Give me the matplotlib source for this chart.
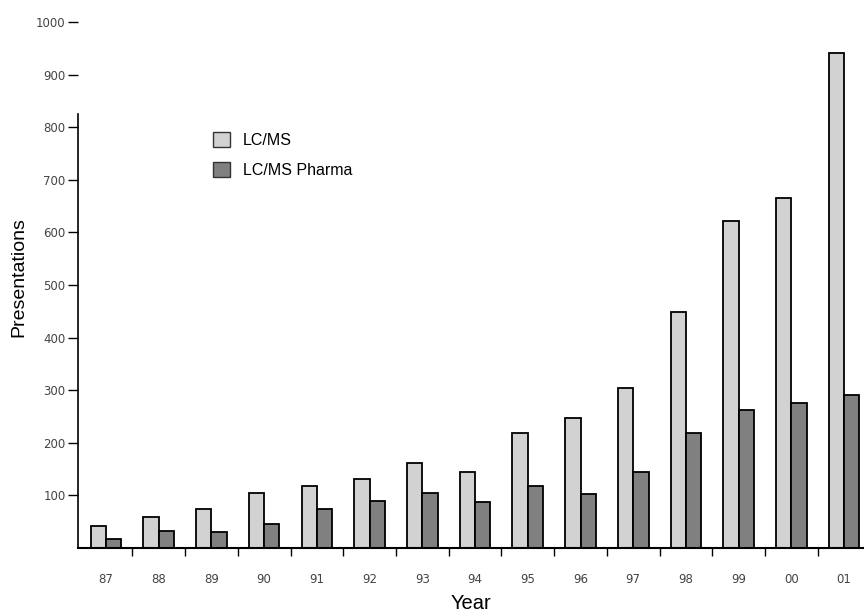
import numpy as np
import matplotlib
matplotlib.use("Agg")
import matplotlib.pyplot as plt
from matplotlib.patches import Patch

# values
years = ["87", "88", "89", "90", "91", "92", "93", "94",
         "95", "96", "97", "98", "99", "00", "01"]
lcms = [42, 58, 74, 104, 117, 131, 161, 145, 219, 247, 305, 448, 622, 665, 941]
lcms_pharma = [17, 32, 31, 46, 74, 89, 104, 88, 118, 103, 145, 219, 262, 276, 291]
y_ticks = [100, 200, 300, 400, 500, 600, 700, 800, 900, 1000]

light = "#d2d2d2"
dark = "#808080"

plt.rcParams["font.family"] = ["Liberation Sans", "DejaVu Sans"]

fig = plt.figure(figsize=(8.64, 6.14), dpi=100)
ax = fig.add_axes([0.0903, 0.1075, 0.9087, 0.8567])

x = np.arange(len(years))
w = 0.29
ax.bar(x - w / 2, lcms, w, color=light, edgecolor="black", linewidth=1.3)
ax.bar(x + w / 2, lcms_pharma, w, color=dark, edgecolor="black", linewidth=1.3)

ax.set_xlim(-0.53, 14.36)
ax.set_ylim(0, 1000)

# spines like the scanned figure
ax.spines["top"].set_visible(False)
ax.spines["right"].set_visible(False)
ax.spines["left"].set_bounds(0, 825)
ax.spines["left"].set_linewidth(1.2)
ax.spines["bottom"].set_linewidth(1.5)

tick_font = {"family": "DejaVu Sans", "size": 8.5}

ax.set_yticks(y_ticks)
ax.set_yticklabels([str(v) for v in y_ticks], fontdict=tick_font)
ax.tick_params(axis="y", direction="out", length=7, width=1.0,
               labelcolor="#444444", pad=2)

# year labels at group centres, tick marks between the groups
ax.set_xticks(x)
ax.set_xticklabels(years, fontdict=tick_font)
ax.set_xticks(x[:-1] + 0.5, minor=True)
ax.tick_params(axis="x", which="major", length=0,
               labelcolor="#444444", pad=18)
ax.tick_params(axis="x", which="minor", direction="out", length=6, width=1.0)

ax.set_xlabel("Year", fontsize=14.5, labelpad=6)
ax.set_ylabel("Presentations", fontsize=14)
ax.yaxis.set_label_coords(-0.064, 0.515)

handles = [Patch(facecolor=light, edgecolor="#333333", label="LC/MS"),
           Patch(facecolor=dark, edgecolor="#333333", label="LC/MS Pharma")]
ax.legend(handles=handles, loc="upper left", bbox_to_anchor=(0.153, 0.818),
          frameon=False, fontsize=11.5, handlelength=1.1, handleheight=1.1,
          handletextpad=0.8, labelspacing=0.85)

fig.savefig("out.png", dpi=100)
